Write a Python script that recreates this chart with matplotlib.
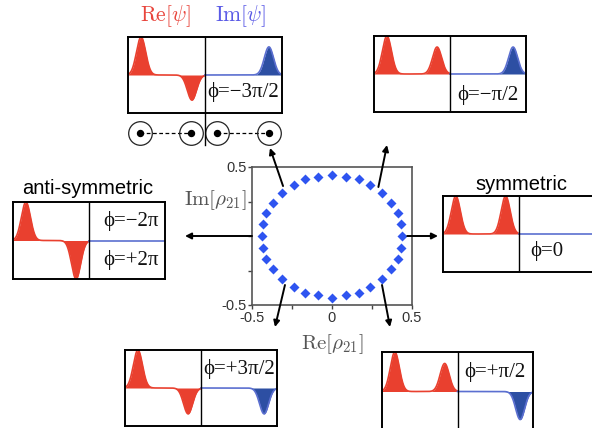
import numpy as np
import matplotlib
matplotlib.use("Agg")
import matplotlib.pyplot as plt

plt.rcParams['mathtext.fontset'] = 'cm'

W, H = 592, 428

# ---- data -------------------------------------------------------------
# double-well wavefunction snapshots: peak amplitudes at the two wells
wells = [0.17, 0.83]
panel_names = ['top_left', 'top_right', 'left', 'right', 'bottom_left', 'bottom_right']
re_amps = {
    'top_left':     [1.0, -0.66],
    'top_right':    [1.0, 0.71],
    'left':         [1.0, -1.0],
    'right':        [1.0, 1.0],
    'bottom_left':  [1.0, -0.68],
    'bottom_right': [1.0, 0.71],
}
im_amps = {
    'top_left':     [0.0, 0.74],
    'top_right':    [0.0, 0.71],
    'left':         [0.0, 0.0],
    'right':        [0.0, 0.0],
    'bottom_left':  [0.0, -0.68],
    'bottom_right': [0.0, -0.71],
}
# phase labels: (text, x, y) in panel data coords
phase_labels = {
    'top_left':     [('ϕ=−3π/2', 1.5, -0.45)],
    'top_right':    [('ϕ=−π/2', 1.5, -0.55)],
    'left':         [('ϕ=−2π', 1.55, 0.5), ('ϕ=+2π', 1.55, -0.5)],
    'right':        [('ϕ=0', 1.37, -0.45)],
    'bottom_left':  [('ϕ=+3π/2', 1.5, 0.5)],
    'bottom_right': [('ϕ=+π/2', 1.5, 0.5)],
}

# rho_21 trajectory (dots)
rho_re = [0.44, 0.43, 0.41, 0.37, 0.31, 0.24, 0.17, 0.09, 0.00, -0.09, -0.17, -0.24,
          -0.31, -0.37, -0.41, -0.43, -0.44, -0.43, -0.41, -0.37, -0.31, -0.24, -0.17,
          -0.09, 0.00, 0.09, 0.17, 0.24, 0.31, 0.37, 0.41, 0.43]
rho_im = [0.00, 0.09, 0.17, 0.24, 0.31, 0.37, 0.41, 0.43, 0.44, 0.43, 0.41, 0.37,
          0.31, 0.24, 0.17, 0.09, 0.00, -0.09, -0.17, -0.24, -0.31, -0.37, -0.41,
          -0.43, -0.45, -0.43, -0.41, -0.37, -0.31, -0.24, -0.17, -0.09]

circle_x = [0.15, 0.82, 1.16, 1.83]

# ---- layout (pixel boxes: left, top, right, bottom) -------------------
boxes = {
    'top_left':     (128, 37, 282, 113),
    'top_right':    (374, 36, 526, 112),
    'left':         (13, 202, 165, 279),
    'right':        (443, 196, 594, 272),
    'bottom_left':  (125, 350, 277, 426),
    'bottom_right': (382, 352, 533, 431),
}
center_box = (252, 167, 412, 305)

RED = '#e9402f'
BLUE = '#2d4fa3'
BLUE_LINE = '#5b6fd0'


def add_px_axes(fig, box, **kw):
    l, t, r, b = box
    return fig.add_axes([l / W, 1 - b / H, (r - l) / W, (b - t) / H], **kw)


fig = plt.figure(figsize=(W / 100, H / 100), dpi=100)

xs = np.linspace(0, 1, 400)
sig = 0.06
panel_axes = {}
for name in panel_names:
    ax = add_px_axes(fig, boxes[name])
    panel_axes[name] = ax
    re = sum(a * np.exp(-(xs - w) ** 2 / (2 * sig ** 2)) for a, w in zip(re_amps[name], wells))
    im = sum(a * np.exp(-(xs - w) ** 2 / (2 * sig ** 2)) for a, w in zip(im_amps[name], wells))
    ax.fill_between(xs, 0, re, color=RED, lw=0)
    ax.plot(xs, re, color=RED, lw=1.2)
    ax.fill_between(xs + 1, 0, im, color=BLUE, lw=0)
    ax.plot(xs + 1, im, color=BLUE_LINE, lw=1.2)
    ax.axvline(1, color='black', lw=1.0)
    for txt, tx, ty in phase_labels[name]:
        ax.text(tx, ty, txt, ha='center', va='center', fontsize=15,
                family='Liberation Serif', color='#111111')
    ax.set_xlim(0, 2)
    ax.set_ylim(-1, 1)
    ax.set_xticks([])
    ax.set_yticks([])
    for s in ax.spines.values():
        s.set_linewidth(1.4)
        s.set_color('black')

tl = panel_axes['top_left']
tl.text(0.24, 1.28, r'$\mathrm{Re}[\psi]$', transform=tl.transAxes, ha='center',
        va='center', fontsize=15.5, color='#e8453c')
tl.text(0.73, 1.28, r'$\mathrm{Im}[\psi]$', transform=tl.transAxes, ha='center',
        va='center', fontsize=15.5, color='#5a5ae6')
panel_axes['left'].text(0.49, 1.18, 'anti-symmetric', transform=panel_axes['left'].transAxes,
                        ha='center', va='center', fontsize=14.5, family='Liberation Sans')
panel_axes['right'].text(0.52, 1.15, 'symmetric', transform=panel_axes['right'].transAxes,
                         ha='center', va='center', fontsize=14.5, family='Liberation Sans')

# well markers under the top-left panel
ca = add_px_axes(fig, (128, 113, 282, 153))
ca.set_xlim(0, 2)
ca.set_ylim(-1, 1)
ca.axis('off')
ca.plot(circle_x[:2], [0, 0], color='black', lw=0.9, dashes=(3, 2))
ca.plot(circle_x[2:], [0, 0], color='black', lw=0.9, dashes=(3, 2))
ca.plot(circle_x, [0] * 4, 'o', ms=17, mfc='none', mec='#222222', mew=0.9)
ca.plot(circle_x, [0] * 4, 'o', ms=4.3, color='black')
ca.axvline(1, ymin=0.2, ymax=1, color='black', lw=1.0)

# center rho_21 plot
cx = add_px_axes(fig, center_box)
cx.plot(rho_re, rho_im, 'D', ms=5.2, color='#2e54f0', mec='none')
cx.set_xlim(-0.5, 0.5)
cx.set_ylim(-0.5, 0.5)
ticks = [-0.5, -0.25, 0, 0.25, 0.5]
cx.set_xticks(ticks)
cx.set_xticklabels(['-0.5', '', '0', '', '0.5'])
cx.set_yticks(ticks)
cx.set_yticklabels(['-0.5', '', '', '', '0.5'])
cx.tick_params(direction='out', length=3, width=1, colors='#444444', labelsize=10.5, pad=1)
for lab in cx.get_xticklabels() + cx.get_yticklabels():
    lab.set_family('Liberation Sans')
    lab.set_color('#333333')
for s in cx.spines.values():
    s.set_linewidth(1.2)
    s.set_color('#555555')
cx.text(-0.23, 0.76, r'$\mathrm{Im}[\rho_{21}]$', transform=cx.transAxes, ha='center',
        va='center', fontsize=15, color='#555555')
cx.text(0.5, -0.28, r'$\mathrm{Re}[\rho_{21}]$', transform=cx.transAxes, ha='center',
        va='center', fontsize=15, color='#555555')

# arrows from the trajectory to the snapshots
ov = fig.add_axes([0, 0, 1, 1], zorder=10)
ov.set_xlim(0, W)
ov.set_ylim(H, 0)
ov.axis('off')
ov.patch.set_alpha(0)
arrow_starts = [(-0.306, 0.362), (0.29, 0.355), (-0.294, -0.355), (0.3125, -0.355),
                (0.47, 0.0), (-0.5, 0.0)]
arrow_ends = [(270, 148), (387, 145), (275, 327), (390, 327), (438, 236), (185, 236)]
for st, en in zip(arrow_starts, arrow_ends):
    ov.annotate('', xy=en, xycoords=ov.transData, xytext=st, textcoords=cx.transData,
                arrowprops=dict(arrowstyle='-|>', color='black', lw=1.4,
                                mutation_scale=9, shrinkA=0, shrinkB=0))

fig.savefig('out.png', dpi=100, facecolor='white')
